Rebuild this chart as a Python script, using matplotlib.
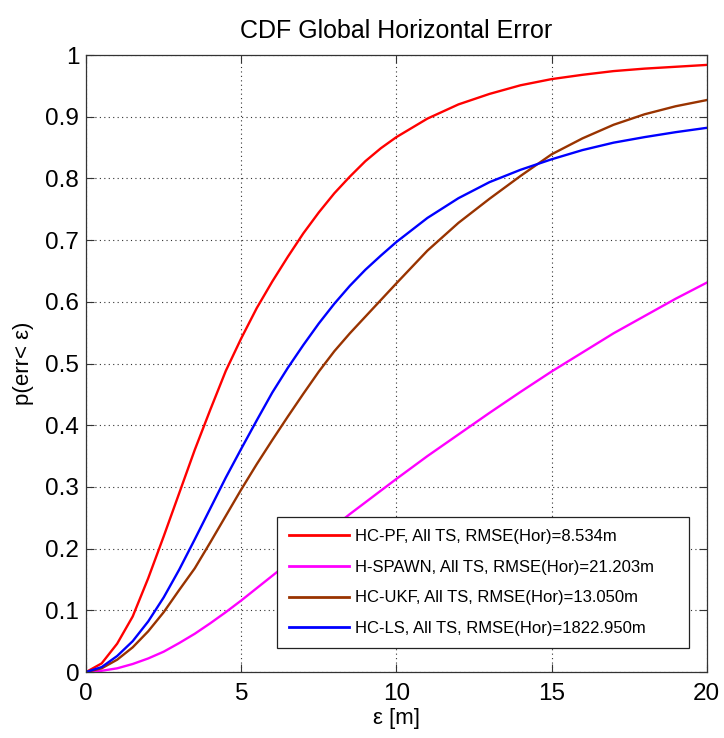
import matplotlib
matplotlib.use("Agg")
import matplotlib.pyplot as plt

plt.rcParams['font.family'] = ['Liberation Sans', 'DejaVu Sans']

# error values (m) at which the curves were read
eps = [0, 0.5, 1, 1.5, 2, 2.5, 3, 3.5, 4, 4.5, 5, 5.5, 6, 6.5, 7, 7.5, 8,
       8.5, 9, 9.5, 10, 11, 12, 13, 14, 15, 16, 17, 18, 19, 20]

# CDF values
hc_pf = [0, 0.014, 0.046, 0.090, 0.152, 0.220, 0.290, 0.360, 0.425, 0.488,
         0.541, 0.590, 0.633, 0.673, 0.711, 0.745, 0.776,
         0.803, 0.828, 0.849, 0.867,
         0.897, 0.920, 0.937, 0.951, 0.961, 0.968, 0.974, 0.978, 0.981, 0.984]
h_spawn = [0, 0.002, 0.006, 0.013, 0.022, 0.033, 0.047, 0.062, 0.079, 0.097,
           0.116, 0.136, 0.156, 0.176, 0.196, 0.216, 0.236,
           0.256, 0.275, 0.294, 0.313,
           0.350, 0.385, 0.420, 0.454, 0.487, 0.518, 0.549, 0.577, 0.605, 0.631]
hc_ukf = [0, 0.006, 0.020, 0.040, 0.066, 0.097, 0.133, 0.168, 0.210, 0.253,
          0.296, 0.337, 0.376, 0.414, 0.451, 0.487, 0.520,
          0.549, 0.576, 0.603, 0.630,
          0.683, 0.728, 0.767, 0.804, 0.839, 0.865, 0.887, 0.904, 0.917, 0.927]
hc_ls = [0, 0.008, 0.026, 0.050, 0.082, 0.121, 0.166, 0.215, 0.265, 0.315,
         0.362, 0.408, 0.453, 0.493, 0.530, 0.565, 0.597,
         0.626, 0.652, 0.675, 0.697,
         0.736, 0.768, 0.794, 0.814, 0.831, 0.846, 0.858, 0.867, 0.875, 0.882]

labels = ["HC-PF, All TS, RMSE(Hor)=8.534m",
          "H-SPAWN, All TS, RMSE(Hor)=21.203m",
          "HC-UKF, All TS, RMSE(Hor)=13.050m",
          "HC-LS, All TS, RMSE(Hor)=1822.950m"]
colors = ["#ff0000", "#ff00ff", "#993300", "#0000ff"]

fig = plt.figure(figsize=(7.24, 7.38), dpi=100)
ax = fig.add_axes([0.119, 0.0894, 0.857, 0.836])

for ys, lab, c in zip([hc_pf, h_spawn, hc_ukf, hc_ls], labels, colors):
    ax.plot(eps, ys, color=c, lw=1.7, label=lab)

ax.set_xlim(0, 20)
ax.set_ylim(0, 1)
ax.set_xticks([0, 5, 10, 15, 20])
ax.set_yticks([i / 10 for i in range(11)])
ax.set_yticklabels(["0", "0.1", "0.2", "0.3", "0.4", "0.5", "0.6", "0.7",
                    "0.8", "0.9", "1"])
ax.grid(True, color="#333333", linestyle=(0, (1, 3)), linewidth=0.8)
ax.tick_params(direction="in", top=True, right=True, length=6, width=0.8,
               labelsize=17.5, color="#333333")
ax.tick_params(axis="x", pad=8)
ax.tick_params(axis="y", pad=5)
for s in ax.spines.values():
    s.set_color("#333333")
    s.set_linewidth(0.9)

ax.set_title("CDF Global Horizontal Error", fontsize=18, pad=12)
ax.set_xlabel("ε [m]", fontsize=16, labelpad=2)
ax.set_ylabel("p(err< ε)", fontsize=16, labelpad=8)

# legend box stretched to the width it has in the picture
leg = ax.legend(loc="lower left", bbox_to_anchor=(0.3076, 0.039, 0.6634, 0.21),
                mode="expand", fontsize=12, fancybox=False, framealpha=1,
                edgecolor="#222222", handlelength=3.6, handletextpad=0.36,
                labelspacing=0.95, borderpad=0.7, borderaxespad=0)
leg.get_frame().set_linewidth(0.9)
for line in leg.get_lines():
    line.set_linewidth(2.0)

fig.savefig("out.png", dpi=100)
